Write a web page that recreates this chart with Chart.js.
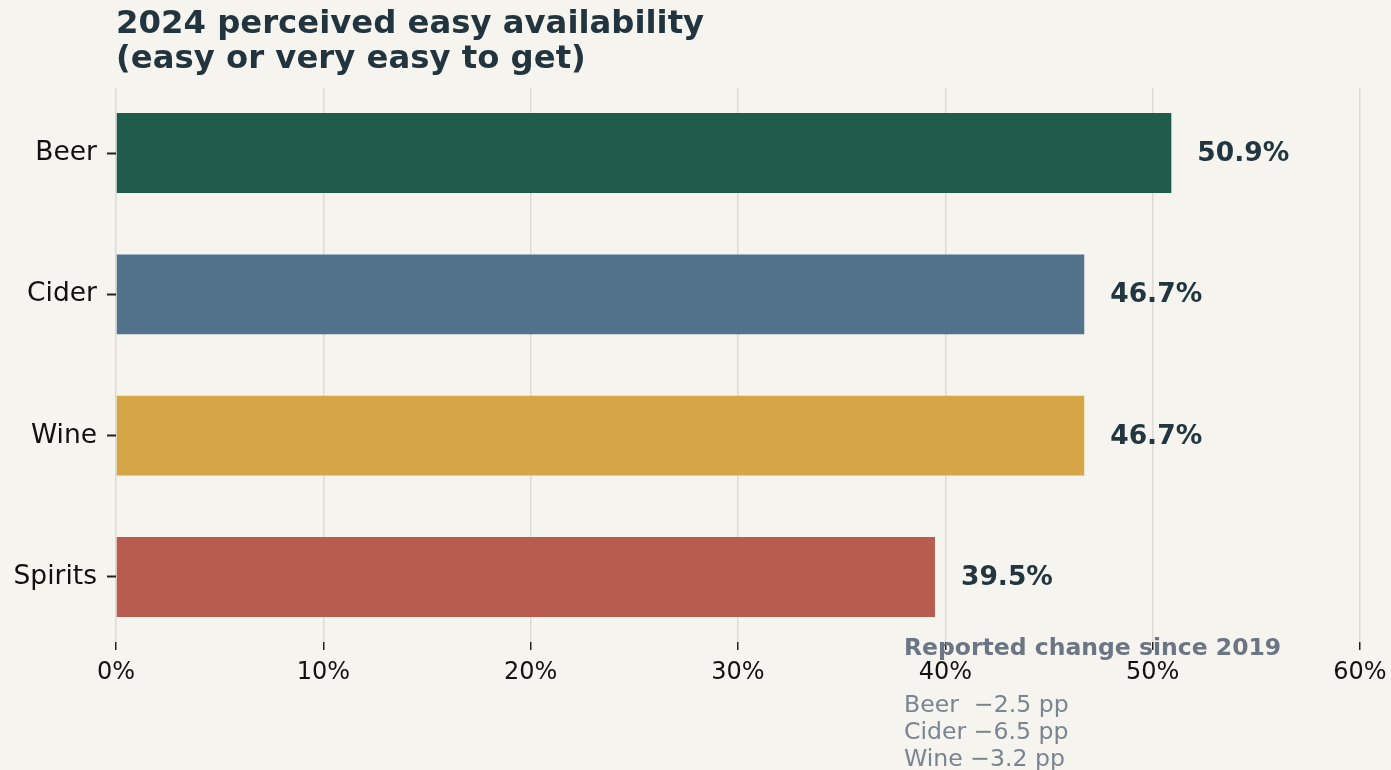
<!DOCTYPE html>
<html>
<head>
<meta charset="utf-8">
<script src="https://cdn.jsdelivr.net/npm/chart.js@4"></script>
<style>
  html, body { margin: 0; padding: 0; background: #f5f4ef; }
  #wrap { width: 1391px; height: 770px; position: relative; }
</style>
</head>
<body>
<div id="wrap"><canvas id="availChart"></canvas></div>
<script>
// chart data
const categories = ['Beer', 'Cider', 'Wine', 'Spirits'];
const shares2024 = [50.9, 46.7, 46.7, 39.5];
const barColors = ['#1f5c4c', '#52738b', '#d6a646', '#b85c50'];
const xTicks = [0, 10, 20, 30, 40, 50, 60];
const changeNote = 'Reported change since 2019';
const changeLines = ['Beer  \u22122.5 pp', 'Cider \u22126.5 pp', 'Wine \u22123.2 pp'];

const FONT = '"DejaVu Sans", sans-serif';

// title, value labels and the little note at the bottom
const textPlugin = {
    id: 'textPlugin',
    afterDatasetsDraw(chart) {
        const ctx = chart.ctx;
        const meta = chart.getDatasetMeta(0);
        ctx.save();
        ctx.font = 'bold 26.5px ' + FONT;
        ctx.fillStyle = '#22363f';
        ctx.textAlign = 'left';
        ctx.textBaseline = 'middle';
        meta.data.forEach((bar, i) => {
            ctx.fillText(shares2024[i].toFixed(1) + '%', bar.x + 26, bar.y + 1);
        });
        ctx.restore();
    },
    afterDraw(chart) {
        const ctx = chart.ctx;
        ctx.save();
        ctx.textAlign = 'left';
        ctx.textBaseline = 'alphabetic';
        ctx.fillStyle = '#22353f';
        ctx.font = 'bold 32.3px ' + FONT;
        ctx.fillText('2024 perceived easy availability', 116, 33);
        ctx.fillText('(easy or very easy to get)', 116, 68);

        ctx.fillStyle = '#6b7584';
        ctx.font = 'bold 23.5px ' + FONT;
        ctx.fillText(changeNote, 904, 655);
        ctx.fillStyle = '#7b8491';
        ctx.font = '23.6px ' + FONT;
        changeLines.forEach((line, i) => {
            ctx.fillText(line, 904, 712 + i * 27);
        });
        ctx.restore();
    }
};

const ctx = document.getElementById('availChart').getContext('2d');
new Chart(ctx, {
    type: 'bar',
    data: {
        datasets: [{
            data: shares2024.map((v, i) => ({ x: v, y: i })),
            backgroundColor: barColors,
            borderWidth: 0,
            categoryPercentage: 1,
            barPercentage: 0.565
        }]
    },
    options: {
        indexAxis: 'y',
        responsive: true,
        maintainAspectRatio: false,
        animation: false,
        layout: { padding: { top: 88, right: 31, left: 0, bottom: 0 } },
        plugins: {
            legend: { display: false },
            title: { display: false },
            tooltip: { enabled: false }
        },
        scales: {
            x: {
                type: 'linear',
                min: 0,
                max: 60,
                z: 1,
                afterBuildTicks: (scale) => { scale.ticks = xTicks.map(v => ({ value: v })); },
                afterFit: (scale) => {
                    scale.height = 128;
                    // let the 60% label hang over the edge like the original
                    scale.paddingLeft = 0;
                    scale.paddingRight = 0;
                },
                border: { display: false },
                grid: {
                    color: '#dcdad3',
                    lineWidth: 1.5,
                    tickColor: '#222',
                    tickWidth: 1.5,
                    tickLength: 8
                },
                ticks: {
                    color: '#111',
                    font: { family: FONT, size: 24 },
                    padding: 8,
                    maxRotation: 0,
                    callback: (v) => v + '%'
                }
            },
            y: {
                type: 'linear',
                min: -0.46,
                max: 3.46,
                reverse: true,
                offset: false,
                afterBuildTicks: (scale) => { scale.ticks = categories.map((c, i) => ({ value: i })); },
                afterFit: (scale) => { scale.width = 116; },
                border: { display: false },
                grid: {
                    offset: false,
                    color: 'rgba(0,0,0,0)',
                    drawOnChartArea: false,
                    tickColor: '#222',
                    tickWidth: 2,
                    tickLength: 9
                },
                ticks: {
                    color: '#111',
                    font: { family: FONT, size: 26.5 },
                    padding: 10,
                    callback: (v) => categories[v]
                }
            }
        }
    },
    plugins: [textPlugin]
});
</script>
</body>
</html>
